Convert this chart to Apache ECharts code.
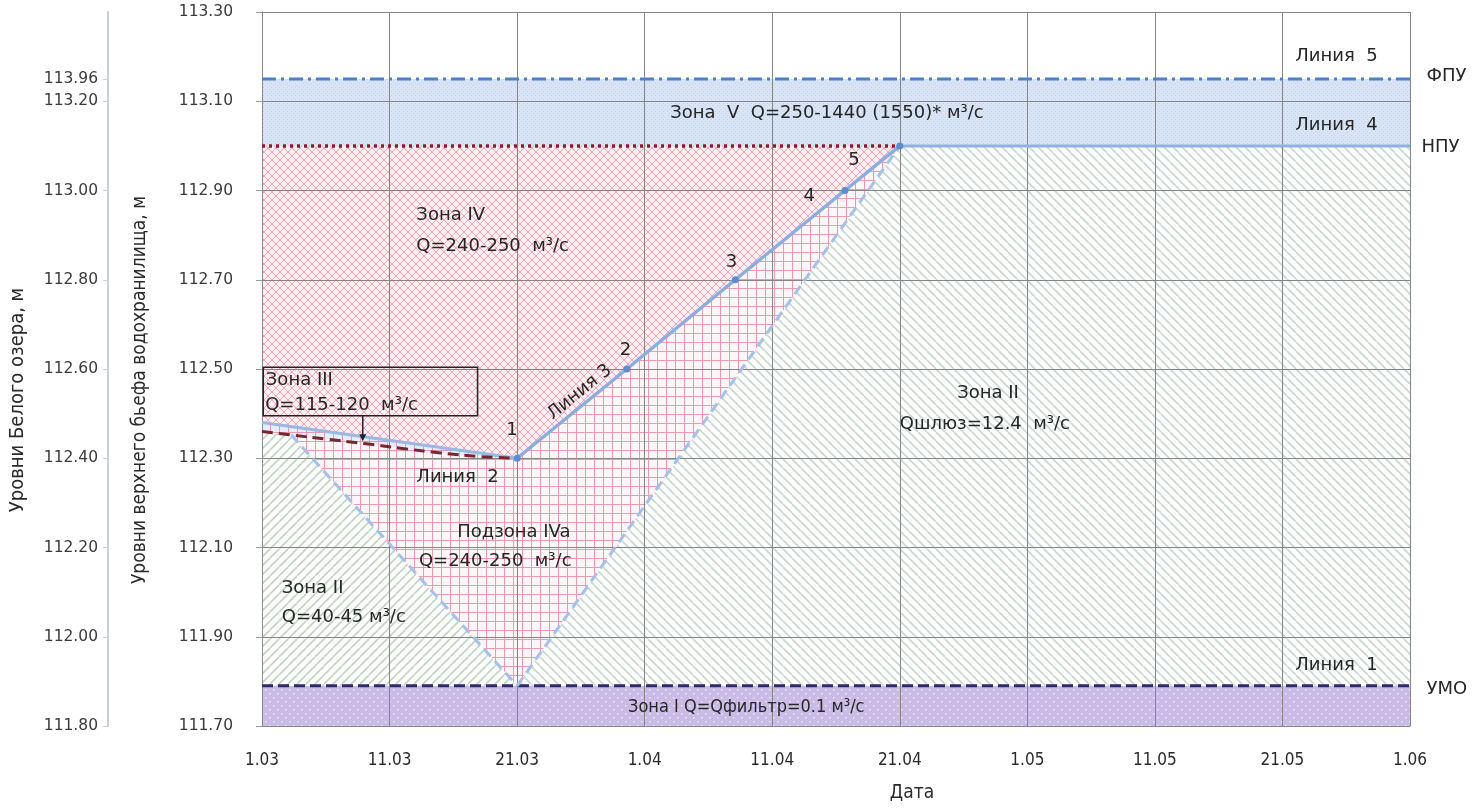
<!DOCTYPE html>
<html><head><meta charset="utf-8">
<script src="https://cdn.jsdelivr.net/npm/echarts@6/dist/echarts.min.js"></script>
<style>html,body{margin:0;padding:0;background:#fff}#c{width:1479px;height:809px}</style>
</head><body><div id="c"></div>
<script>
// ---------- DATA ----------
const xTickLabels = ['1.03','11.03','21.03','1.04','11.04','21.04','1.05','11.05','21.05','1.06'];
const yTickLabels = ['111.70','111.90','112.10','112.30','112.50','112.70','112.90','113.10','113.30'];
const lakeTickLabels = ['111.80','112.00','112.20','112.40','112.60','112.80','113.00','113.20'];
const lakeExtraLabel = '113.96';
// x in days from 1.03 (one tick = 10 units)
const levelFPU = 113.15;
const levelNPU = 113.00;
const levelUMO = 111.79;
const levelMin = 111.70;
const line3 = [[20,112.30],[28.6,112.50],[37.1,112.70],[45.7,112.90],[50,113.00]];
const line2 = [[0,112.36],[2.3,112.352],[5,112.343],[8,112.333],[11,112.322],[14,112.312],[17,112.304],[20,112.30]];
const zone3Line = [[0,112.38],[20,112.30]];
const leftDashed = [[2.3,112.352],[20,111.79]];
const rightDashed = [[20,111.79],[50,113.00]];
const npuLine = [[50,113.00],[90,113.00]];
const redDotted = [[0,113.00],[50,113.00]];
const fpuLine = [[0,113.15],[90,113.15]];
const umoLine = [[0,111.79],[90,111.79]];

const base = levelMin;
const toY = p => [p[0], +(p[1]-base).toFixed(4)];

// ---------- PATTERNS ----------
function mk(s, draw){const c=document.createElement('canvas');c.width=c.height=s;const g=c.getContext('2d');draw(g,s);return {image:c,repeat:'repeat'};}
const patGreenBack = mk(9,(g,s)=>{g.fillStyle='#ffffff';g.fillRect(0,0,s,s);g.strokeStyle='#c6d7cd';g.lineWidth=1.6;for(const k of [-1,0,1]){g.beginPath();g.moveTo(k*s,0);g.lineTo(k*s+s,s);g.stroke();}});
const patGreenFwd = mk(9,(g,s)=>{g.fillStyle='#ffffff';g.fillRect(0,0,s,s);g.strokeStyle='#bcd5bf';g.lineWidth=1.6;for(const k of [-1,0,1]){g.beginPath();g.moveTo(k*s,s);g.lineTo(k*s+s,0);g.stroke();}});
const patDiamond = mk(8,(g,s)=>{g.fillStyle='#fcedf1';g.fillRect(0,0,s,s);g.strokeStyle='#eaa9b8';g.lineWidth=1;for(const k of [-1,0,1]){g.beginPath();g.moveTo(k*s,0);g.lineTo(k*s+s,s);g.stroke();g.beginPath();g.moveTo(k*s,s);g.lineTo(k*s+s,0);g.stroke();}});
const patGrid = mk(9,(g,s)=>{g.fillStyle='#fdf5f7';g.fillRect(0,0,s,s);g.strokeStyle='#e99cad';g.lineWidth=1;g.beginPath();g.moveTo(0.5,0);g.lineTo(0.5,s);g.moveTo(0,0.5);g.lineTo(s,0.5);g.stroke();});
const patGridBlue = mk(9,(g,s)=>{g.fillStyle='#e6edf9';g.fillRect(0,0,s,s);g.strokeStyle='#e39aab';g.lineWidth=1;g.beginPath();g.moveTo(0.5,0);g.lineTo(0.5,s);g.moveTo(0,0.5);g.lineTo(s,0.5);g.stroke();});
const patBlueDots = mk(4,(g,s)=>{g.fillStyle='#d9e4f6';g.fillRect(0,0,s,s);g.fillStyle='#c0d1ee';g.fillRect(1,1,1,1);g.fillRect(3,3,1,1);});
const patPurple = mk(8,(g,s)=>{g.fillStyle='#c9bbe6';g.fillRect(0,0,s,s);g.fillStyle='#eee8f8';g.fillRect(1,1,1.5,1.5);g.fillRect(5,5,1.5,1.5);});

// ---------- ZONES (polygons in data units) ----------
const zones = [
  {pts:[[0,levelMin],[90,levelMin],[90,levelUMO],[0,levelUMO]], fill:patPurple},
  {pts:[[0,levelNPU],[90,levelNPU],[90,levelFPU],[0,levelFPU]], fill:patBlueDots},
  {pts:[rightDashed[0],[90,levelUMO],[90,levelNPU],rightDashed[1]], fill:patGreenBack},
  {pts:[[0,levelUMO],[20,levelUMO],leftDashed[0],...line2.filter(p=>p[0]<leftDashed[0][0]).reverse()], fill:patGreenFwd},
  {pts:[[20,levelUMO],rightDashed[1],...line3.slice().reverse(),...line2.filter(p=>p[0]>=leftDashed[0][0]).reverse()], fill:patGrid},
  {pts:[[0,levelNPU],[50,levelNPU],...line3.slice().reverse(),zone3Line[0]], fill:patDiamond},
  {pts:[...zone3Line,...line2.slice().reverse()], fill:patGridBlue}
];

// ---------- ANNOTATIONS ----------
const F = "'DejaVu Sans', sans-serif";
const FC = "'DejaVu Sans Condensed','Liberation Sans Narrow','DejaVu Sans',sans-serif";
const notes = [
  {t:'Линия  5', x:81.0, y:113.20, f:F, s:18},
  {t:'ФПУ', x:91.3, y:113.156, f:F, s:18},
  {t:'Линия  4', x:81.0, y:113.047, f:F, s:18},
  {t:'НПУ', x:90.9, y:112.997, f:F, s:18},
  {t:'Зона  V  Q=250-1440 (1550)* м³/с', x:32.0, y:113.074, f:F, s:18},
  {t:'Зона IV', x:12.1, y:112.845, f:F, s:18},
  {t:'Q=240-250  м³/с', x:12.1, y:112.776, f:F, s:18},
  {t:'Зона III', x:0.3, y:112.474, f:F, s:18},
  {t:'Q=115-120  м³/с', x:0.25, y:112.418, f:F, s:18},
  {t:'Линия 3', x:24.9, y:112.448, f:F, s:18, r:39, a:'center'},
  {t:'1', x:19.6, y:112.362, f:F, s:18, a:'center'},
  {t:'2', x:28.5, y:112.542, f:F, s:18, a:'center'},
  {t:'3', x:36.8, y:112.740, f:F, s:18, a:'center'},
  {t:'4', x:42.9, y:112.887, f:F, s:18, a:'center'},
  {t:'5', x:46.4, y:112.968, f:F, s:18, a:'center'},
  {t:'Линия  2', x:12.1, y:112.257, f:F, s:18},
  {t:'Зона II', x:54.5, y:112.446, f:F, s:18},
  {t:'Qшлюз=12.4  м³/с', x:50.0, y:112.376, f:F, s:18},
  {t:'Подзона IVa', x:15.3, y:112.133, f:F, s:18},
  {t:'Q=240-250  м³/с', x:12.3, y:112.068, f:F, s:18},
  {t:'Зона II', x:1.55, y:112.008, f:F, s:18},
  {t:'Q=40-45 м³/с', x:1.55, y:111.943, f:F, s:18},
  {t:'Линия  1', x:81.0, y:111.836, f:F, s:18},
  {t:'УМО', x:91.3, y:111.782, f:F, s:18},
  {t:'Зона I Q=Qфильтр=0.1 м³/с', x:28.7, y:111.742, f:FC, s:18}
];
const zone3Box = [[0.1,112.504],[16.9,112.395]];
const arrow = [[7.9,112.395],[7.9,112.338]];

// ---------- CHART ----------
const chart = echarts.init(document.getElementById('c'), null, {renderer:'canvas'});
const lineSeries = (data, color, width, type, z, extra) => Object.assign({
  type:'line', data:data.map(toY), symbol:'none', z:z||10, silent:true, animation:false,
  lineStyle:{color:color, width:width, type:type||'solid'}
}, extra||{});

const option = {
  animation:false,
  grid:{left:262, right:69, top:12, bottom:83, containLabel:false},
  xAxis:{type:'value', min:0, max:90, interval:10, z:5,
    axisLine:{show:true, lineStyle:{color:'#888', width:1}},
    axisTick:{show:false},
    axisLabel:{margin:26, color:'#2a2a2a', fontSize:17, fontFamily:FC, formatter:v=>xTickLabels[Math.round(v/10)]},
    splitLine:{show:true, lineStyle:{color:'#858585', width:1}}
  },
  yAxis:[
    {type:'value', min:0, max:1.6, interval:0.2, z:5, position:'left',
      axisLine:{show:true, lineStyle:{color:'#888', width:1}},
      axisTick:{show:true, inside:false, length:6, lineStyle:{color:'#999'}},
      axisLabel:{margin:29, color:'#3a3a3a', fontSize:15.5, fontFamily:F, formatter:v=>yTickLabels[Math.round(v/0.2)]},
      splitLine:{show:true, lineStyle:{color:'#858585', width:1}}
    },
    {type:'value', min:0, max:1.6, interval:0.2, position:'left', offset:154, z:5,
      axisLine:{show:true, lineStyle:{color:'#c8cfd8', width:2}},
      axisTick:{show:true, length:5, lineStyle:{color:'#c8cfd8'}, customValues:[0,0.2,0.4,0.6,0.8,1.0,1.2,1.4,1.45]},
      axisLabel:{margin:10, color:'#3a3a3a', fontSize:15.5, fontFamily:F,
        customValues:[0,0.2,0.4,0.6,0.8,1.0,1.2,1.4,1.45],
        formatter:v=>Math.abs(v-(levelFPU-base))<1e-6?lakeExtraLabel:lakeTickLabels[Math.round(v/0.2)]},
      splitLine:{show:false}
    }
  ],
  graphic:[
    {type:'text', x:140, y:390, rotation:Math.PI/2, z:20, style:{text:'Уровни верхнего бьефа водохранилища, м', fill:'#2a2a2a', font:"19px "+FC, align:'center', verticalAlign:'middle'}},
    {type:'text', x:18, y:400, rotation:Math.PI/2, z:20, style:{text:'Уровни Белого озера, м', fill:'#2a2a2a', font:"20px "+FC, align:'center', verticalAlign:'middle'}},
    {type:'text', x:912, y:793, z:20, style:{text:'Дата', fill:'#2a2a2a', font:"19px "+FC, align:'center', verticalAlign:'middle'}}
  ],
  series:[
    {type:'custom', z:1, silent:true, clip:false, data:zones.map((z,i)=>[i,0]),
      renderItem:(params, api)=>{
        const z = zones[params.dataIndex];
        return {type:'polygon', shape:{points:z.pts.map(p=>api.coord(toY(p)))}, style:{fill:z.fill}};
      }},
    lineSeries(umoLine, '#2f2a6b', 3, [11,5], 9),
    lineSeries(fpuLine, '#4f7fc6', 3, [14,5,3,5], 9),
    lineSeries(redDotted, '#8e1e24', 3.5, [3,4], 9),
    lineSeries(npuLine, '#8fb1e2', 3, 'solid', 9),
    lineSeries(leftDashed, '#a4c1ea', 3, [10,6], 9),
    lineSeries(rightDashed, '#a4c1ea', 3, [10,6], 9),
    lineSeries(zone3Line, '#9ab8e6', 3, 'solid', 10),
    lineSeries(line2, '#7b2532', 3, [11,6], 11, {smooth:true}),
    lineSeries(line3, '#8aaee0', 3.5, 'solid', 12, {symbol:'circle', symbolSize:7, itemStyle:{color:'#5c8dd0'}}),
    {type:'custom', z:20, silent:true, clip:false, data:[[0,0]],
      renderItem:(params, api)=>{
        const children = [];
        const a = api.coord(toY(zone3Box[0])), b = api.coord(toY(zone3Box[1]));
        children.push({type:'rect', shape:{x:a[0], y:a[1], width:b[0]-a[0], height:b[1]-a[1]}, style:{fill:'rgba(255,255,255,0)', stroke:'#222', lineWidth:1.5}});
        const p0 = api.coord(toY(arrow[0])), p1 = api.coord(toY(arrow[1]));
        children.push({type:'line', shape:{x1:p0[0], y1:p0[1], x2:p1[0], y2:p1[1]-3}, style:{stroke:'#222', lineWidth:1.5}});
        children.push({type:'polygon', shape:{points:[[p1[0]-3.5,p1[1]-7],[p1[0]+3.5,p1[1]-7],[p1[0],p1[1]]]}, style:{fill:'#222'}});
        notes.forEach(n=>{
          const p = api.coord(toY([n.x,n.y]));
          children.push({type:'text', x:p[0], y:p[1], rotation:(n.r||0)*Math.PI/180,
            style:{text:n.t, fill:'#262626', font:n.s+'px '+n.f, align:n.a||'left', verticalAlign:'middle'}});
        });
        return {type:'group', children};
      }}
  ]
};
chart.setOption(option);
</script></body></html>
